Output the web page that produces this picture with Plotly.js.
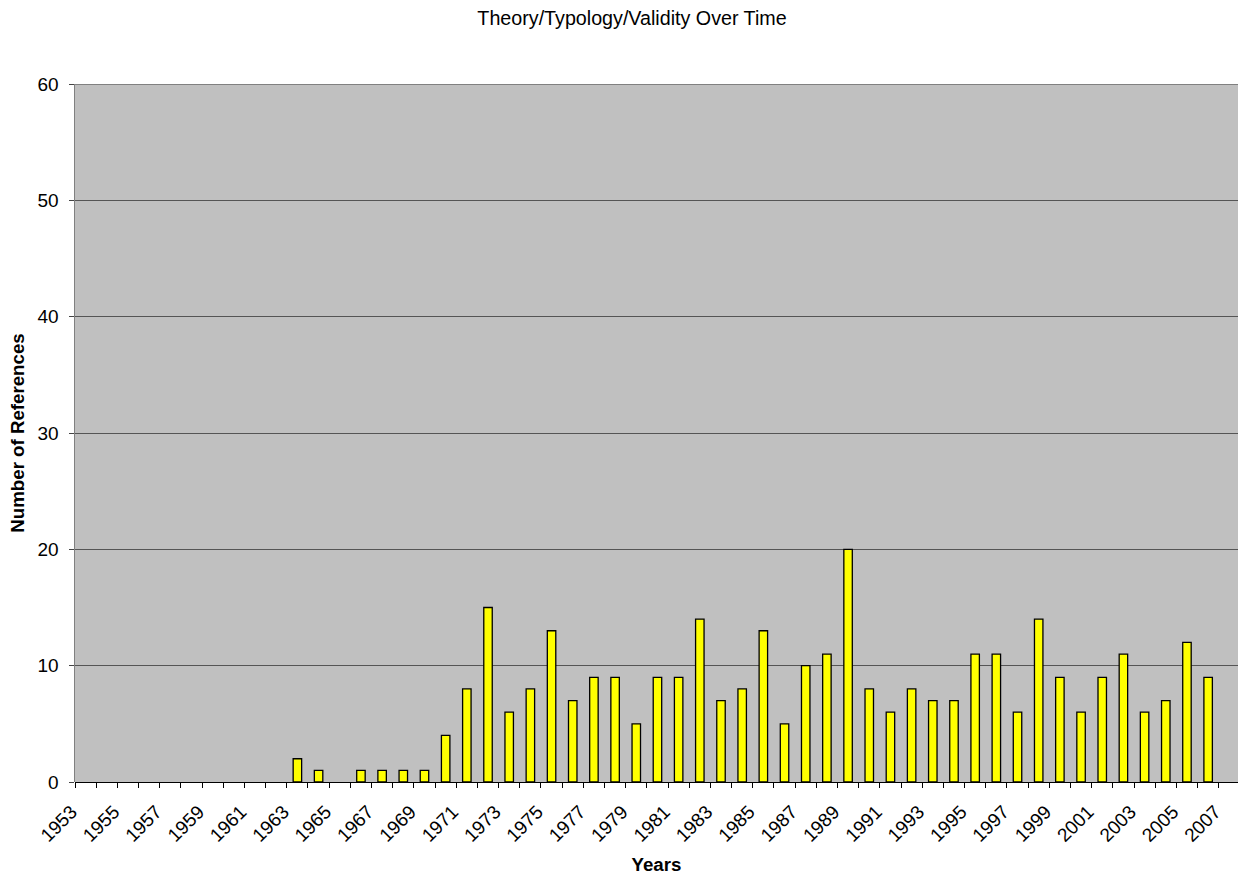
<!DOCTYPE html>
<html>
<head>
<meta charset="utf-8">
<script src="https://cdn.plot.ly/plotly-3.0.1.min.js"></script>
<style>
  html, body { margin: 0; padding: 0; background: #fff; }
  #chart { width: 1238px; height: 875px; }
</style>
</head>
<body>
<div id="chart"></div>
<script>
// Years 1953..2007 (categories)
const years = [
  1953, 1954, 1955, 1956, 1957, 1958, 1959, 1960, 1961, 1962,
  1963, 1964, 1965, 1966, 1967, 1968, 1969, 1970, 1971, 1972,
  1973, 1974, 1975, 1976, 1977, 1978, 1979, 1980, 1981, 1982,
  1983, 1984, 1985, 1986, 1987, 1988, 1989, 1990, 1991, 1992,
  1993, 1994, 1995, 1996, 1997, 1998, 1999, 2000, 2001, 2002,
  2003, 2004, 2005, 2006, 2007
];
// Number of references per year
const references = [
  0, 0, 0, 0, 0, 0, 0, 0, 0, 0,
  2, 1, 0, 1, 1, 1, 1, 4, 8, 15,
  6, 8, 13, 7, 9, 9, 5, 9, 9, 14,
  7, 8, 13, 5, 10, 11, 20, 8, 6, 8,
  7, 7, 11, 11, 6, 14, 9, 6, 9, 11,
  6, 7, 12, 9, 0
];
// Tick labels: every other year
const tickYears = years.filter((y, i) => i % 2 === 0);
const tickLabels = tickYears.map(String);

const chartTitle = 'Theory/Typology/Validity Over Time';
const xTitle = 'Years';
const yTitle = 'Number of References';

const FONT = 'Arial, "Liberation Sans", sans-serif';

const trace = {
  type: 'bar',
  x: years,
  y: references.map(v => (v === 0 ? null : v)),
  width: 0.4,
  marker: { color: '#FFFF00', line: { color: '#000000', width: 1.3 } },
  hoverinfo: 'x+y'
};

const layout = {
  width: 1238,
  height: 875,
  paper_bgcolor: '#FFFFFF',
  plot_bgcolor: '#C0C0C0',
  margin: { l: 75, r: 0, t: 84, b: 93, pad: 0 },
  showlegend: false,
  font: { family: FONT, color: '#000', size: 19 },
  title: {
    text: chartTitle,
    font: { family: FONT, size: 19.7, color: '#000' },
    xref: 'container', x: 632 / 1238, xanchor: 'center',
    yref: 'container', y: 1 - 18 / 875, yanchor: 'middle'
  },
  xaxis: {
    type: 'linear',
    range: [1952.5, 2007.41],
    tickmode: 'array',
    tickvals: tickYears,
    ticktext: tickLabels,
    ticks: '',
    tickangle: -45,
    ticklabelstandoff: 14,
    ticklabelshift: -14,
    ticklabeloverflow: 'allow',
    tickfont: { family: FONT, size: 19, color: '#000' },
    showgrid: false,
    zeroline: false,
    showline: false,
    minor: { tick0: 1952.5, dtick: 1, ticks: 'outside', ticklen: 5, tickwidth: 1, tickcolor: '#000', showgrid: false },
    title: { text: xTitle, font: { family: FONT, size: 18.7, color: '#000', weight: 'bold' }, standoff: 15 },
    fixedrange: true
  },
  yaxis: {
    range: [0, 60],
    tickmode: 'linear',
    tick0: 0,
    dtick: 10,
    ticks: 'outside',
    ticklen: 5,
    tickwidth: 1,
    tickcolor: '#444',
    ticklabelstandoff: 6,
    tickfont: { family: FONT, size: 19, color: '#000' },
    showgrid: true,
    gridcolor: '#555555',
    gridwidth: 1,
    zeroline: true,
    zerolinecolor: '#000',
    zerolinewidth: 1,
    showline: true,
    linecolor: '#808080',
    linewidth: 1.5,
    title: { text: yTitle, font: { family: FONT, size: 18.7, color: '#000', weight: 'bold' }, standoff: 8 },
    fixedrange: true
  },
  shapes: [
    { type: 'line', xref: 'paper', yref: 'y', x0: 0, x1: 1, y0: 60, y1: 60,
      line: { color: '#808080', width: 2 }, layer: 'above' }
  ],
  bargap: 0.6
};

Plotly.newPlot('chart', [trace], layout, { displayModeBar: false, staticPlot: true });
</script>
</body>
</html>
